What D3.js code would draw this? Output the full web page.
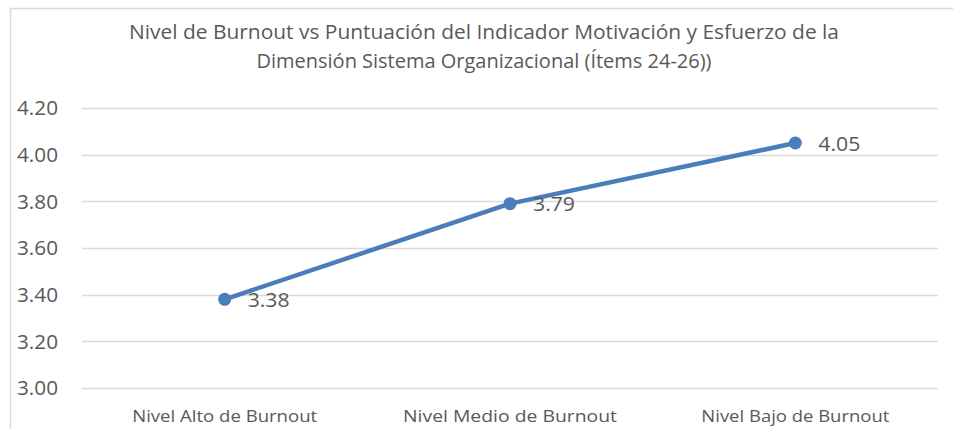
<!DOCTYPE html>
<html>
<head>
<meta charset="utf-8">
<script src="https://cdn.jsdelivr.net/npm/d3@7"></script>
<style>
  body { margin: 0; background: #fff; }
  text { font-family: "Open Sans", sans-serif; fill: #595959; }
</style>
</head>
<body>
<div id="chart"></div>
<script>
const categories = ["Nivel Alto de Burnout", "Nivel Medio de Burnout", "Nivel Bajo de Burnout"];
const values = [3.38, 3.79, 4.05];
const yTicks = [3.0, 3.2, 3.4, 3.6, 3.8, 4.0, 4.2];
const titleLines = [
  "Nivel de Burnout vs Puntuación del Indicador Motivación y Esfuerzo de la",
  "Dimensión Sistema Organizacional (Ítems 24-26))"
];

const W = 953, H = 429;
const plot = { left: 82, right: 938, top: 108, bottom: 388 };

const svg = d3.select("#chart").append("svg")
  .attr("width", W).attr("height", H);

// chart border (only top & left visible in the crop)
svg.append("path")
  .attr("d", `M10.5,${H} L10.5,8.5 L${W},8.5`)
  .attr("fill", "none").attr("stroke", "#d9d9d9").attr("stroke-width", 1.5);

// title
svg.selectAll(".title").data(titleLines).enter().append("text")
  .attr("class", "title")
  .attr("x", 484)
  .attr("y", (d, i) => 39 + i * 29)
  .attr("text-anchor", "middle")
  .style("font-size", "19.5px")
  .attr("textLength", (d, i) => i === 0 ? 710 : 455)
  .attr("lengthAdjust", "spacingAndGlyphs")
  .text(d => d);

const x = d3.scalePoint().domain(categories).range([plot.left, plot.right]).padding(0.5);
const y = d3.scaleLinear().domain([3.0, 4.2]).range([plot.bottom, plot.top]);

// gridlines
svg.append("g").selectAll("line").data(yTicks).enter().append("line")
  .attr("x1", plot.left).attr("x2", plot.right)
  .attr("y1", d => Math.round(y(d)) + 0.5).attr("y2", d => Math.round(y(d)) + 0.5)
  .attr("stroke", "#d9d9d9").attr("stroke-width", 1.3);

// y axis labels
svg.append("g").selectAll("text").data(yTicks).enter().append("text")
  .attr("x", 17)
  .attr("y", d => y(d))
  .attr("dy", "0.36em")
  .style("font-size", "20.5px")
  .attr("textLength", 41)
  .attr("lengthAdjust", "spacingAndGlyphs")
  .text(d => d3.format(".2f")(d));

// x axis labels
const catWidths = [185, 214, 188];
svg.append("g").selectAll("text").data(categories).enter().append("text")
  .attr("x", d => x(d))
  .attr("y", 422)
  .attr("text-anchor", "middle")
  .style("font-size", "17px")
  .attr("textLength", (d, i) => catWidths[i])
  .attr("lengthAdjust", "spacingAndGlyphs")
  .text(d => d);

const data = categories.map((c, i) => ({ c, v: values[i] }));

svg.append("path")
  .datum(data)
  .attr("fill", "none")
  .attr("stroke", "#4a7ebb")
  .attr("stroke-width", 4.5)
  .attr("stroke-linejoin", "round")
  .attr("d", d3.line().x(d => x(d.c)).y(d => y(d.v)));

svg.append("g").selectAll("circle").data(data).enter().append("circle")
  .attr("cx", d => x(d.c)).attr("cy", d => y(d.v))
  .attr("r", 6.5).attr("fill", "#4a7ebb");

// data labels
svg.append("g").selectAll("text").data(data).enter().append("text")
  .attr("x", d => x(d.c) + 23)
  .attr("y", d => y(d.v))
  .attr("dy", "0.38em")
  .style("font-size", "20.5px")
  .attr("textLength", 42)
  .attr("lengthAdjust", "spacingAndGlyphs")
  .text(d => d3.format(".2f")(d.v));
</script>
</body>
</html>
